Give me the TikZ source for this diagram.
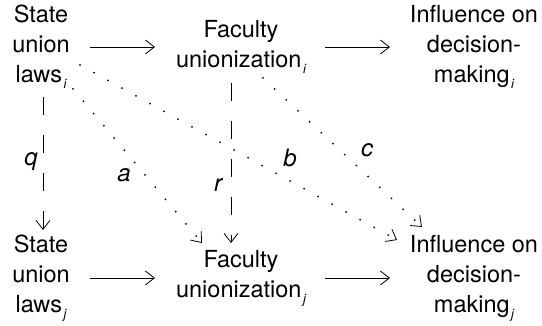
\documentclass[tikz,border=0pt]{standalone}
\usepackage{fontspec}
\setmainfont{TeX Gyre Heros}
\usetikzlibrary{arrows.meta}
\newcommand\mysubscript[1]{\hspace{1.5pt}\raisebox{-6pt}{\fontsize{13}{13}\selectfont\itshape #1}}
\tikzset{
  box/.style={inner sep=0pt, align=center, font=\fontsize{23.5}{30}\selectfont},
  lbl/.style={inner sep=0pt, anchor=base, font=\fontsize{24}{24}\selectfont\itshape},
  tip/.style={-{Straight Barb[length=9pt,width=14pt,line width=0.8pt]}},
  solidarr/.style={tip, line width=0.8pt},
  dasharr/.style={tip, line width=0.8pt, dash pattern=on 18pt off 20pt},
  dotarr/.style={tip, line width=2pt, line cap=round, dash pattern=on 0pt off 16pt}
}
\begin{document}
\begin{tikzpicture}[x=1pt,y=1pt]
\useasboundingbox (0,0) rectangle (542,326);
% nodes
\node[box] (sli) at (41,279) {State\\union\\laws\mysubscript{i}};
\node[box] (fui) at (241,279) {Faculty\\unionization\mysubscript{i}};
\node[box] (idi) at (474,279) {Influence on\\decision-\\making\mysubscript{i}};
\node[box] (slj) at (41,48) {State\\union\\laws\mysubscript{j}};
\node[box] (fuj) at (241,48) {Faculty\\unionization\mysubscript{j}};
\node[box] (idj) at (474,48) {Influence on\\decision-\\making\mysubscript{j}};
% solid arrows
\draw[solidarr] ([xshift=49pt]sli.center) -- ([xshift=-86pt]fui.center);
\draw[solidarr] ([xshift=84pt]fui.center) -- ([xshift=-84pt]idi.center);
\draw[solidarr] ([xshift=49pt]slj.center) -- ([xshift=-86pt]fuj.center);
\draw[solidarr] ([xshift=84pt]fuj.center) -- ([xshift=-84pt]idj.center);
% dashed arrows
\draw[dasharr] ([shift={(2pt,-50pt)}]sli.center) -- ([shift={(2pt,48pt)}]slj.center);
\draw[dasharr] ([shift={(-10pt,-36pt)}]fui.center) -- ([shift={(-10pt,35pt)}]fuj.center);
% dotted arrows
\draw[dotarr] ([shift={(32pt,-42pt)}]sli.center) -- ([shift={(-39pt,35pt)}]fuj.center);
\draw[dotarr] ([shift={(39pt,-18pt)}]sli.center) -- ([shift={(-77pt,38pt)}]idj.center);
\draw[dotarr] ([shift={(22pt,-31pt)}]fui.center) -- ([shift={(-52pt,51pt)}]idj.center);
% labels
\node[lbl] (lq) at (31,160) {q};
\node[lbl] (la) at (124,144) {a};
\node[lbl] (lr) at (218,134) {r};
\node[lbl] (lb) at (290,159) {b};
\node[lbl] (lc) at (367,169) {c};
\end{tikzpicture}
\end{document}
